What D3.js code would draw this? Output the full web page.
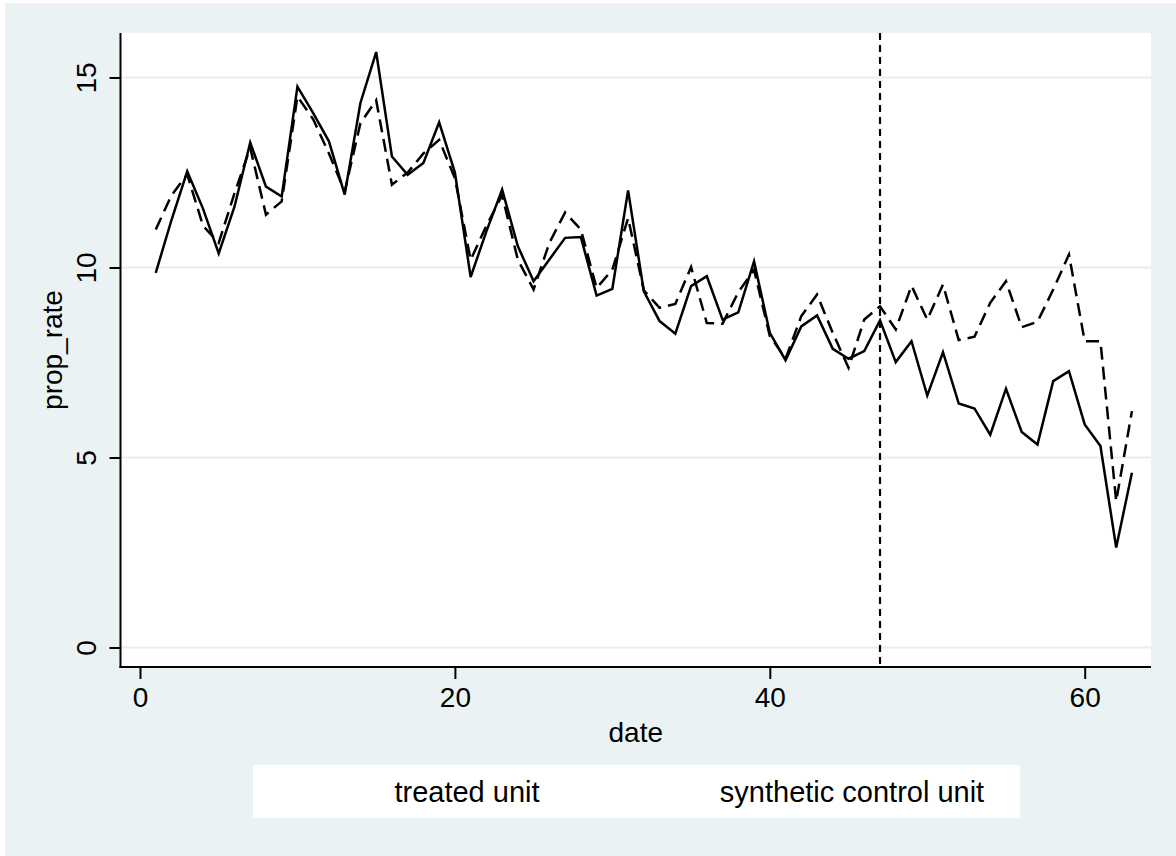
<!DOCTYPE html>
<html>
<head>
<meta charset="utf-8">
<script src="https://cdn.jsdelivr.net/npm/d3@7"></script>
<style>
  html, body { margin: 0; padding: 0; background: #ffffff; }
  svg { display: block; }
  text { font-family: "Liberation Sans", Arial, Helvetica, sans-serif; fill: #000; }
</style>
</head>
<body>
<div id="chart"></div>
<script>
// data
var dates = d3.range(1, 64);
var treated = [9.86, 11.25, 12.53, 11.55, 10.37, 11.6, 13.29, 12.13, 11.87, 14.76,
  14.06, 13.32, 11.92, 14.33, 15.67, 12.92, 12.44, 12.75, 13.82, 12.5,
  9.75, 10.95, 12.05, 10.56, 9.64, 10.21, 10.78, 10.8, 9.26, 9.44,
  12.03, 9.37, 8.59, 8.26, 9.51, 9.77, 8.63, 8.82, 10.16, 8.28,
  7.56, 8.45, 8.74, 7.86, 7.6, 7.8, 8.61, 7.51, 8.06, 6.63,
  7.77, 6.42, 6.29, 5.6, 6.81, 5.67, 5.34, 7.01, 7.27, 5.87,
  5.3, 2.63, 4.6];
var synthetic = [11.0, 11.9, 12.45, 11.1, 10.65, 11.95, 13.15, 11.39, 11.74, 14.5,
  13.9, 13.0, 12.0, 13.8, 14.4, 12.18, 12.5, 13.0, 13.36, 12.35,
  10.2, 11.1, 11.9, 10.2, 9.42, 10.65, 11.45, 11.0, 9.46, 9.94,
  11.3, 9.4, 8.94, 9.04, 10.01, 8.54, 8.52, 9.35, 9.94, 8.2,
  7.6, 8.72, 9.29, 8.28, 7.36, 8.63, 8.98, 8.37, 9.52, 8.63,
  9.55, 8.09, 8.18, 9.07, 9.64, 8.43, 8.57, 9.42, 10.34, 8.06,
  8.06, 3.85, 6.22];
var xTicks = [0, 20, 40, 60];
var yTicks = [0, 5, 10, 15];
var treatmentDate = 47;
var seriesNames = ["treated unit", "synthetic control unit"];

var W = 1176, H = 856;
var bg = "#eaf2f3";

var svg = d3.select("#chart").append("svg")
    .attr("width", W)
    .attr("height", H);

// outer graph region
svg.append("rect")
    .attr("x", 5).attr("y", 3)
    .attr("width", W - 5).attr("height", H - 3)
    .attr("fill", bg);

// plot region
var plot = {left: 120.5, right: 1151, top: 33, bottom: 667};
svg.append("rect")
    .attr("x", plot.left).attr("y", plot.top)
    .attr("width", plot.right - plot.left)
    .attr("height", plot.bottom - plot.top)
    .attr("fill", "#ffffff");

var x = d3.scaleLinear().domain([0, 60]).range([140, 1084.7]);
var y = d3.scaleLinear().domain([0, 15]).range([647.5, 77.5]);

// gridlines
svg.append("g").selectAll("line")
    .data(yTicks)
    .enter().append("line")
    .attr("x1", plot.left).attr("x2", plot.right)
    .attr("y1", function(d) { return y(d); })
    .attr("y2", function(d) { return y(d); })
    .attr("stroke", "#e5eef0")
    .attr("stroke-width", 2);

// y axis
var yAxis = svg.append("g")
    .attr("transform", "translate(" + plot.left + ",0)")
    .call(d3.axisLeft(y).tickValues(yTicks).tickSize(11).tickPadding(12).tickFormat(d3.format("d")));
yAxis.select(".domain").remove();
yAxis.selectAll(".tick line").attr("stroke", "#000").attr("stroke-width", 2);
yAxis.selectAll(".tick text")
    .attr("transform", "rotate(-90)")
    .attr("x", 0)
    .attr("y", -35)
    .attr("dy", "0.36em")
    .attr("text-anchor", "middle")
    .style("font-size", "28px");

// x axis
var xAxis = svg.append("g")
    .attr("transform", "translate(0," + plot.bottom + ")")
    .call(d3.axisBottom(x).tickValues(xTicks).tickSize(12).tickPadding(8).tickFormat(d3.format("d")));
xAxis.select(".domain").remove();
xAxis.selectAll(".tick line").attr("stroke", "#000").attr("stroke-width", 2);
xAxis.selectAll(".tick text").style("font-size", "28px");

// axis lines
svg.append("line")
    .attr("x1", plot.left).attr("x2", plot.left)
    .attr("y1", plot.top).attr("y2", plot.bottom + 1)
    .attr("stroke", "#000").attr("stroke-width", 2);
svg.append("line")
    .attr("x1", plot.left - 1).attr("x2", plot.right)
    .attr("y1", plot.bottom).attr("y2", plot.bottom)
    .attr("stroke", "#000").attr("stroke-width", 2);

// axis titles
svg.append("text")
    .attr("x", (plot.left + plot.right) / 2)
    .attr("y", 742)
    .attr("text-anchor", "middle")
    .style("font-size", "28px")
    .text("date");
svg.append("text")
    .attr("transform", "translate(62," + ((plot.top + plot.bottom) / 2) + ") rotate(-90)")
    .attr("text-anchor", "middle")
    .style("font-size", "28px")
    .text("prop_rate");

// lines
var line = function(vals) {
    return d3.line()
        .x(function(d, i) { return x(dates[i]); })
        .y(function(d) { return y(d); })(vals);
};
svg.append("path")
    .attr("d", line(synthetic))
    .attr("fill", "none")
    .attr("stroke", "#000")
    .attr("stroke-width", 2.5)
    .attr("stroke-dasharray", "13,7");
svg.append("path")
    .attr("d", line(treated))
    .attr("fill", "none")
    .attr("stroke", "#000")
    .attr("stroke-width", 2.5);

// treatment line
svg.append("line")
    .attr("x1", x(treatmentDate)).attr("x2", x(treatmentDate))
    .attr("y1", plot.top).attr("y2", plot.bottom)
    .attr("stroke", "#000")
    .attr("stroke-width", 2.2)
    .attr("stroke-dasharray", "7,5");

// legend (no keys drawn, as in the original)
svg.append("rect")
    .attr("x", 253).attr("y", 765)
    .attr("width", 767).attr("height", 53)
    .attr("fill", "#ffffff");
var legendX = [467, 852];
svg.append("g").selectAll("text")
    .data(seriesNames)
    .enter().append("text")
    .attr("x", function(d, i) { return legendX[i]; })
    .attr("y", 802)
    .attr("text-anchor", "middle")
    .style("font-size", "29px")
    .text(function(d) { return d; });
</script>
</body>
</html>
